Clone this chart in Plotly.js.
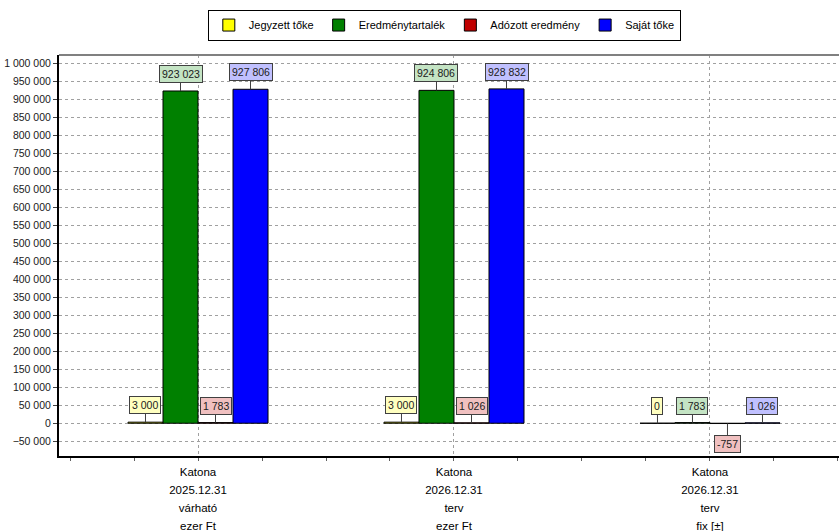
<!DOCTYPE html>
<html>
<head>
<meta charset="utf-8">
<script src="https://cdn.plot.ly/plotly-3.0.1.min.js"></script>
<style>html,body{margin:0;padding:0;background:#fff;}#chart{width:839px;height:531px;}</style>
</head>
<body>
<div id="chart"></div>
<script>
// ---- data ----
var categoryLines = [
  ["Katona", "2025.12.31", "várható", "ezer Ft"],
  ["Katona", "2026.12.31", "terv", "ezer Ft"],
  ["Katona", "2026.12.31", "terv", "fix [±]"]
];
var categoryIndex = [0, 1, 2];
var seriesNames = ["Jegyzett tőke", "Eredménytartalék", "Adózott eredmény", "Saját tőke"];
var jegyzettToke = [3000, 3000, 0];
var eredmenytartalek = [923023, 924806, 1783];
var adozottEredmeny = [1783, 1026, -757];
var sajatToke = [927806, 928832, 1026];

// ---- styles ----
var barColors = ["#ffff00", "#008000", "#c00000", "#0000ff"];
var labelColors = ["#ffffc0", "#c4e4c4", "#f0c0c0", "#c0c0ff"];
var seriesValues = [jegyzettToke, eredmenytartalek, adozottEredmeny, sajatToke];
var bargap = 0.453;
var nSeries = seriesValues.length;
var barW = (1 - bargap) / nSeries;

var categoryLabels = categoryLines.map(function (lines) {
  return lines.map(function (l) { return '<span style="font-size:11.5px">' + l + '</span>'; }).join("<br>");
});

function fmt(v) {
  var s = String(Math.abs(v)).replace(/\B(?=(\d{3})+(?!\d))/g, " ");
  return (v < 0 ? "-" : "") + s;
}

var traces = seriesValues.map(function (vals, k) {
  return {
    type: "bar",
    name: seriesNames[k],
    x: categoryIndex,
    y: vals,
    marker: { color: barColors[k], line: { color: "#000000", width: 1 } },
    hoverinfo: "skip"
  };
});

var annotations = [];
seriesValues.forEach(function (vals, k) {
  vals.forEach(function (v, i) {
    annotations.push({
      xref: "x", yref: "y",
      x: categoryIndex[i] + (k - (nSeries - 1) / 2) * barW,
      y: v,
      text: fmt(v),
      showarrow: true,
      arrowhead: 0,
      arrowwidth: 1,
      arrowcolor: "#404040",
      ax: 0,
      ay: v < 0 ? 20 : -17,
      standoff: 0,
      bgcolor: labelColors[k],
      bordercolor: "#404040",
      borderwidth: 1,
      borderpad: 2,
      font: { family: "Liberation Sans, Arial, sans-serif", size: 10.5, color: "#202020" }
    });
  });
});

var layout = {
  width: 839,
  height: 531,
  margin: { l: 59, r: 0, t: 55, b: 75, pad: 0 },
  paper_bgcolor: "#ffffff",
  plot_bgcolor: "#ffffff",
  separators: ", ",
  barmode: "group",
  bargap: bargap,
  bargroupgap: 0,
  showlegend: true,
  legend: {
    orientation: "h",
    xref: "paper", yref: "container",
    x: 0.494, xanchor: "center",
    y: 0.982, yanchor: "top",
    bordercolor: "#000000",
    borderwidth: 1,
    bgcolor: "#ffffff",
    font: { family: "Liberation Sans, Arial, sans-serif", size: 11, color: "#000000" },
    itemwidth: 30,
    tracegroupgap: 0
  },
  xaxis: {
    type: "linear",
    range: [-0.543, 2.504],
    tickvals: categoryIndex,
    ticktext: categoryLabels,
    ticks: "outside",
    ticklen: 3,
    tickcolor: "#606060",
    ticklabelstandoff: -2,
    showline: true,
    linecolor: "#000000",
    linewidth: 2,
    showgrid: true,
    gridcolor: "#a0a0a0",
    griddash: "3px,3px",
    gridwidth: 1,
    zeroline: false,
    minor: { dtick: 0.25, tick0: 0, ticks: "outside", ticklen: 3, tickcolor: "#606060", showgrid: false },
    tickfont: { family: "Liberation Sans, Arial, sans-serif", size: 14, color: "#000000" },
    fixedrange: true
  },
  yaxis: {
    range: [-91000, 1023000],
    dtick: 50000,
    tick0: 0,
    tickformat: ",d",
    ticks: "outside",
    ticklen: 4,
    tickcolor: "#404040",
    showline: true,
    linecolor: "#000000",
    linewidth: 2,
    showgrid: true,
    gridcolor: "#a0a0a0",
    griddash: "3px,3px",
    gridwidth: 1,
    zeroline: false,
    tickfont: { family: "Liberation Sans, Arial, sans-serif", size: 10.5, color: "#1a1a1a" },
    fixedrange: true
  },
  shapes: [
    { type: "line", xref: "paper", yref: "paper", x0: 0, x1: 1, y0: 1, y1: 1,
      line: { color: "#808080", width: 2 } }
  ],
  annotations: annotations
};

Plotly.newPlot("chart", traces, layout, { staticPlot: true, displayModeBar: false });
</script>
</body>
</html>
